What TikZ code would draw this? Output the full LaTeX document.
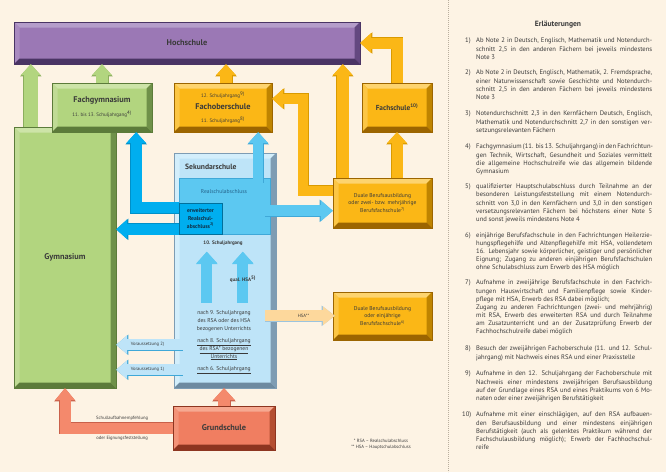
\documentclass[tikz,border=0pt]{standalone}
\usepackage{fontspec}
\setmainfont{PT Sans}
\usetikzlibrary{arrows.meta,calc}
\definecolor{bg}{HTML}{FDF3E4}
\definecolor{txt}{HTML}{3A3A3A}
\definecolor{sep}{HTML}{B9AE9E}
\definecolor{hochM}{HTML}{9B78B5}
\definecolor{hochL}{HTML}{B59DCA}
\definecolor{hochLe}{HTML}{A98BC0}
\definecolor{hochR}{HTML}{634880}
\definecolor{hochB}{HTML}{4A3464}
\definecolor{grM}{HTML}{B2D57F}
\definecolor{grL}{HTML}{CDE4A8}
\definecolor{grLe}{HTML}{C0DB95}
\definecolor{grR}{HTML}{6F9149}
\definecolor{grB}{HTML}{5C7B3A}
\definecolor{grO}{HTML}{8CAE5E}
\definecolor{orM}{HTML}{FBB716}
\definecolor{orL}{HTML}{FDD46F}
\definecolor{orLe}{HTML}{FCC645}
\definecolor{orR}{HTML}{BF8400}
\definecolor{orB}{HTML}{9C6500}
\definecolor{orO}{HTML}{D99A00}
\definecolor{salM}{HTML}{F07E61}
\definecolor{salL}{HTML}{F6A991}
\definecolor{salLe}{HTML}{F39378}
\definecolor{salR}{HTML}{B44E31}
\definecolor{salB}{HTML}{8D3520}
\definecolor{salO}{HTML}{C9604A}
\definecolor{salA}{HTML}{F4896C}
\definecolor{skyL}{HTML}{BEE4F8}
\definecolor{skyLL}{HTML}{D3EEFB}
\definecolor{skyR}{HTML}{7E9CB3}
\definecolor{skyB}{HTML}{6D8AA0}
\definecolor{skyM}{HTML}{5CC8F1}
\definecolor{skyO}{HTML}{3FA8D8}
\definecolor{cyanC}{HTML}{00AEEF}
\definecolor{cyanO}{HTML}{0090C8}
\definecolor{cyanD}{HTML}{00709C}
\definecolor{cyanT}{HTML}{0F3047}
\definecolor{rsaT}{HTML}{24628A}
\definecolor{paleOr}{HTML}{FDD89C}
\definecolor{paleO}{HTML}{9CC4DE}
\newcommand\fBig{\fontsize{8.3}{10}\selectfont\bfseries}
\newcommand\fMid{\fontsize{5.6}{7.6}\selectfont}
\newcommand\fSm{\fontsize{5}{6.5}\selectfont}
\newcommand\fTiny{\fontsize{4.6}{6}\selectfont}
\newcommand\fnm[1]{\textsuperscript{#1}}
\newcommand\jl[1]{\makebox[176pt][s]{#1}\\}
\def\bvw{5.5pt}
\tikzset{
  box/.style={rectangle, inner sep=0pt, align=center, text=txt},
  bevel/.style n args={6}{fill=#1, draw=#6, line width=0.4pt, path picture={
    \path (path picture bounding box.north west) coordinate (bvA)
          (path picture bounding box.north east) coordinate (bvB)
          (path picture bounding box.south east) coordinate (bvC)
          (path picture bounding box.south west) coordinate (bvD);
    \fill[#2] (bvA) -- (bvB) -- ([shift={(-\bvw,-\bvw)}]bvB) -- ([shift={(\bvw,-\bvw)}]bvA) -- cycle;
    \fill[#3] (bvA) -- ([shift={(\bvw,-\bvw)}]bvA) -- ([shift={(\bvw,\bvw)}]bvD) -- (bvD) -- cycle;
    \fill[#4] (bvB) -- (bvC) -- ([shift={(-\bvw,\bvw)}]bvC) -- ([shift={(-\bvw,-\bvw)}]bvB) -- cycle;
    \fill[#5] (bvD) -- (bvC) -- ([shift={(-\bvw,\bvw)}]bvC) -- ([shift={(\bvw,\bvw)}]bvD) -- cycle;
  }},
  purplebox/.style={box, bevel={hochM}{hochL}{hochLe}{hochR}{hochB}{hochB}},
  greenbox/.style={box, bevel={grM}{grL}{grLe}{grR}{grB}{grB}},
  orangebox/.style={box, bevel={orM}{orL}{orLe}{orR}{orB}{orB}},
  salmonbox/.style={box, bevel={salM}{salL}{salLe}{salR}{salB}{salB}},
  skybox/.style={box, bevel={skyL}{skyLL}{skyLL}{skyR}{skyB}{skyR}},
  blk/.code n args={5}{%
    \pgfmathsetlengthmacro\blkA{#3+1pt}%
    \pgfmathsetlengthmacro\blkB{#4+1.6pt}%
    \pgfmathsetlengthmacro\blkC{#5+1.2pt}%
    \edef\blkTmp{\noexpand\tikzset{line width=#3, -{Triangle[width=#4,length=#5,line width=0pt]},
      preaction={draw=#2, line width=\blkA, -{Triangle[width=\blkB,length=\blkC,line width=0pt]}}}}%
    \blkTmp
    \tikzset{draw=#1}%
  },
  item/.style={anchor=north west, inner sep=0pt, align=left, font=\fontsize{6.6}{8.1}\selectfont, text=txt},
  inum/.style={anchor=north west, inner sep=0pt, font=\fontsize{6.6}{8.1}\selectfont, text=txt},
  lbl/.style={inner sep=0pt, text=txt}
}
\begin{document}
\begin{tikzpicture}[x=1pt,y=-1pt]
\useasboundingbox (0,0) rectangle (666,472);
\fill[bg] (0,0) rectangle (666,472);
\draw[sep, line width=0.6pt, dash pattern=on 0.9pt off 1.1pt] (448,0) -- (448,472);

% ---------- boxes ----------
\node[purplebox, minimum width=346pt, minimum height=42pt, font=\fBig] (hoch) at (187,43) {Hochschule};
\node[greenbox, minimum width=102pt, minimum height=261pt, font=\fBig] (gym) at (65,257.5) {Gymnasium};
\node[greenbox, minimum width=100pt, minimum height=49pt] (fgym) at (102,107.5)
  {{\fBig Fachgymnasium}\\[2pt]{\fSm 11. bis 13. Schuljahrgang\fnm{4)}}};
\node[orangebox, minimum width=98pt, minimum height=49pt] (fos) at (223,107.5)
  {{\fSm 12. Schuljahrgang\fnm{9)}}\\[0.5pt]{\fBig Fachoberschule}\\[0.5pt]{\fSm 11. Schuljahrgang\fnm{8)}}};
\node[orangebox, minimum width=70pt, minimum height=49pt, font=\fontsize{7.3}{9}\selectfont\bfseries] (fs) at (397,107.5) {Fachschule\fnm{10)}};
\node[orangebox, minimum width=99pt, minimum height=50pt, font=\fMid] (dual1) at (382.5,203)
  {Duale Berufsausbildung\\oder zwei- bzw. mehrjährige\\Berufsfachschule\fnm{7)}};
\node[orangebox, minimum width=99pt, minimum height=48pt, font=\fMid] (dual2) at (382.5,316)
  {Duale Berufsausbildung\\oder einjährige\\Berufsfachschule\fnm{6)}};
\node[skybox, minimum width=102pt, minimum height=235pt] (sek) at (225,270.5) {};
\node[box, fill=skyM, draw=skyO, line width=0.4pt, minimum width=91pt, minimum height=56pt] (rsa) at (224.5,206) {};
\node[box, fill=cyanC, draw=cyanD, line width=0.6pt, minimum width=43pt, minimum height=31pt,
  font=\fontsize{5.6}{7.6}\selectfont\bfseries, text=cyanT] (erw) at (200.5,218.5) {erweiterter\\Realschul-\\abschluss\fnm{2)}};
\node[salmonbox, minimum width=102pt, minimum height=44pt, font=\fBig] (grund) at (224,428) {Grundschule};

% ---------- arrows ----------
\coordinate (g1) at ($(gym.north west)+(17,0)$);
\draw[blk={grM}{grO}{14pt}{20pt}{11pt}] (g1) -- (g1 |- hoch.south);
\draw[blk={grM}{grO}{12pt}{20pt}{11pt}] (fgym.north) -- (fgym.north |- hoch.south);
\coordinate (f1) at ($(fos.north)+(3,0)$);
\draw[blk={orM}{orO}{12pt}{20pt}{11pt}] (f1) -- (f1 |- hoch.south);
\coordinate (d5) at ($(dual1.north west)+(10,0)$);
\draw[blk={orM}{orO}{12pt}{20pt}{11pt}] (d5) -- (d5 |- hoch.south);
\draw[blk={orM}{orO}{11pt}{20pt}{11pt}] (fs.north) |- (hoch.east);
\coordinate (d4) at (dual1.north -| fs.north);
\draw[blk={orM}{orO}{11pt}{20pt}{11pt}] (d4) -- (fs.south);
\coordinate (d1) at ($(dual1.north west)+(0,13)$);
\coordinate (d3) at ($(fos.north east)+(31,16)$);
\coordinate (d2) at ($(fos.north east)+(0,16)$);
\draw[blk={orM}{orO}{10pt}{20pt}{11pt}] (d1) -| (d3) -- (d2);

\coordinate (r2) at ($(rsa.north east)+(-12,5)$);
\draw[blk={skyM}{skyO}{10pt}{20pt}{11pt}] (r2) -- (r2 |- fos.south);
\coordinate (r1) at ($(rsa.north east)+(-5,33)$);
\draw[blk={skyM}{skyO}{11pt}{21pt}{12pt}] (r1) -- (r1 -| dual1.west);
\coordinate (e1) at ($(erw.north west)+(0,5)$);
\coordinate (e2) at ($(fgym.south east)+(-16,0)$);
\draw[blk={cyanC}{cyanO}{11pt}{20pt}{11pt}] (e1) -| (e2);
\coordinate (e3) at ($(erw.south west)+(0,-5)$);
\draw[blk={cyanC}{cyanO}{11pt}{20pt}{11pt}] (e3) -- (e3 -| gym.east);

\coordinate (s1) at ($(sek.north west)+(33,150)$);
\coordinate (s1t) at ($(sek.north west)+(33,99)$);
\draw[blk={skyM}{skyM}{10pt}{20pt}{11pt}] (s1) -- (s1t);
\coordinate (s2) at ($(sek.north west)+(69,150)$);
\coordinate (s2t) at ($(sek.north west)+(69,99)$);
\draw[blk={skyM}{skyM}{10pt}{20pt}{11pt}] (s2) -- (s2t);

\coordinate (h1) at ($(sek.north east)+(-11,163)$);
\coordinate (h2) at ($(h1 -| dual2.west)+(2,0)$);
\draw[blk={paleOr}{paleO}{11pt}{19pt}{12pt}] (h1) -- node[lbl, pos=0.55, font=\fTiny]{HSA**} (h2);

\coordinate (v2) at ($(sek.north west)+(9,192)$);
\coordinate (v1) at ($(sek.north west)+(9,217)$);
\draw[blk={skyL}{skyO}{11pt}{19pt}{11pt}] (v2) -- node[lbl, pos=0.53, font=\fTiny]{Voraussetzung 2)} (v2 -| gym.east);
\draw[blk={skyL}{skyO}{11pt}{19pt}{11pt}] (v1) -- node[lbl, pos=0.53, font=\fTiny]{Voraussetzung 1)} (v1 -| gym.east);

\draw[blk={salA}{salO}{12pt}{22pt}{12pt}] (grund.north) -- (grund.north |- sek.south);
\draw[blk={salA}{salO}{11pt}{20pt}{12pt}] (grund.west)
  -- node[lbl, pos=0.47, yshift=10pt, font=\fTiny]{Schullaufbahnempfehlung}
     node[lbl, pos=0.47, yshift=-10pt, font=\fTiny]{oder Eignungsfeststellung}
  (grund.west -| gym.south) -- (gym.south);

% ---------- texts in Sekundarschule ----------
\node[lbl, anchor=west, font=\fontsize{7.6}{9}\selectfont\bfseries] (sekt) at (185,167) {Sekundarschule};
\node[lbl, font=\fMid, text=rsaT] (rsat) at (224,192) {Realschulabschluss};
\node[lbl, font=\fSm\bfseries] (sj10) at (223,243) {10. Schuljahrgang};
\node[lbl, font=\fSm\bfseries] (qhsa) at (243,279) {qual. HSA\fnm{5)}};
\node[lbl, align=center, font=\fontsize{5.6}{8}\selectfont] (n9) at (224,321)
  {nach 9. Schuljahrgang\\des RSA oder des HSA\\bezogenen Unterrichts};
\node[lbl, align=center, font=\fontsize{5.6}{7.6}\selectfont] (n8) at (224,349.5)
  {\underline{nach 8. Schuljahrgang}\\\underline{des RSA* bezogenen}\\\underline{Unterrichts}};
\node[lbl, font=\fontsize{5.6}{7.6}\selectfont] (n6) at (224,370) {\underline{nach 6. Schuljahrgang}};
\node[lbl, align=center, font=\fTiny] (fn) at (381,444) {* RSA – Realschulabschluss\\** HSA – Hauptschulabschluss};

% ---------- Erläuterungen ----------
\node[lbl, font=\fontsize{7.6}{9}\selectfont\bfseries] (erl) at (558,25) {Erläuterungen};
\node[inum] (k1) at (465,38) {1)};
\node[item] (i1) at (476,38) {\jl{Ab Note 2 in Deutsch, Englisch, Mathematik und Notendurch-}\jl{schnitt 2,5 in den anderen Fächern bei jeweils mindestens}Note 3};
\node[inum] (k2) at (465,70) {2)};
\node[item] (i2) at (476,70) {\jl{Ab Note 2 in Deutsch, Englisch, Mathematik, 2. Fremdsprache,}\jl{einer Naturwissenschaft sowie Geschichte und Notendurch-}\jl{schnitt 2,5 in den anderen Fächern bei jeweils mindestens}Note 3};
\node[inum] (k3) at (465,111) {3)};
\node[item] (i3) at (476,111) {\jl{Notendurchschnitt 2,3 in den Kernfächern Deutsch, Englisch,}\jl{Mathematik und Notendurchschnitt 2,7 in den sonstigen ver-}setzungsrelevanten Fächern};
\node[inum] (k4) at (465,144) {4)};
\node[item] (i4) at (476,144) {\jl{Fachgymnasium (11. bis 13. Schuljahrgang) in den Fachrichtun-}\jl{gen Technik, Wirtschaft, Gesundheit und Soziales vermittelt}\jl{die allgemeine Hochschulreife wie das allgemein bildende}Gymnasium};
\node[inum] (k5) at (465,184) {5)};
\node[item] (i5) at (476,184) {\jl{qualifizierter Hauptschulabschluss durch Teilnahme an der}\jl{besonderen Leistungsfeststellung mit einem Notendurch-}\jl{schnitt von 3,0 in den Kernfächern und 3,0 in den sonstigen}\jl{versetzungsrelevanten Fächern bei höchstens einer Note 5}und sonst jeweils mindestens Note 4};
\node[inum] (k6) at (465,232.5) {6)};
\node[item] (i6) at (476,232.5) {\jl{einjährige Berufsfachschule in den Fachrichtungen Heilerzie-}\jl{hungspflegehilfe und Altenpflegehilfe mit HSA, vollendetem}\jl{16. Lebensjahr sowie körperlicher, geistiger und persönlicher}\jl{Eignung; Zugang zu anderen einjährigen Berufsfachschulen}ohne Schulabschluss zum Erwerb des HSA möglich};
\node[inum] (k7) at (465,280) {7)};
\node[item] (i7) at (476,280) {\jl{Aufnahme in zweijährige Berufsfachschule in den Fachrich-}\jl{tungen Hauswirtschaft und Familienpflege sowie Kinder-}pflege mit HSA, Erwerb des RSA dabei möglich;\\\jl{Zugang zu anderen Fachrichtungen (zwei- und mehrjährig)}\jl{mit RSA, Erwerb des erweiterten RSA und durch Teilnahme}\jl{am Zusatzunterricht und an der Zusatzprüfung Erwerb der}Fachhochschulreife dabei möglich};
\node[inum] (k8) at (465,346) {8)};
\node[item] (i8) at (476,346) {\jl{Besuch der zweijährigen Fachoberschule (11. und 12. Schul-}jahrgang) mit Nachweis eines RSA und einer Praxisstelle};
\node[inum] (k9) at (465,371) {9)};
\node[item] (i9) at (476,371) {\jl{Aufnahme in den 12. Schuljahrgang der Fachoberschule mit}\jl{Nachweis einer mindestens zweijährigen Berufsausbildung}\jl{auf der Grundlage eines RSA und eines Praktikums von 6 Mo-}naten oder einer zweijährigen Berufstätigkeit};
\node[inum] (k10) at (462,412) {10)};
\node[item] (i10) at (476,412) {\jl{Aufnahme mit einer einschlägigen, auf den RSA aufbauen-}\jl{den Berufsausbildung und einer mindestens einjährigen}\jl{Berufstätigkeit (auch als gelenktes Praktikum während der}\jl{Fachschulausbildung möglich); Erwerb der Fachhochschul-}reife};
\end{tikzpicture}
\end{document}
